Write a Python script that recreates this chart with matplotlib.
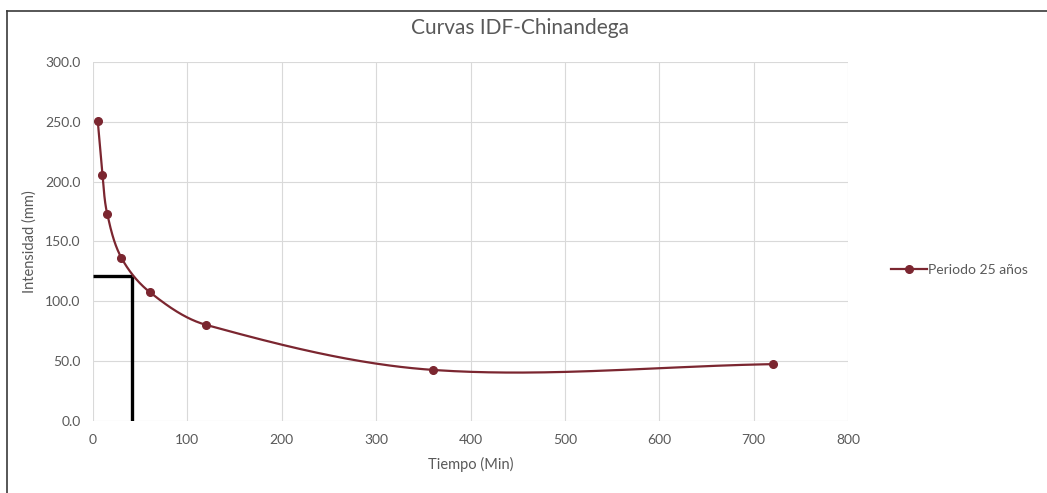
import numpy as np
import matplotlib
matplotlib.use("Agg")
import matplotlib.pyplot as plt
from matplotlib.lines import Line2D

# datos de la curva IDF (periodo 25 años)
tiempo = [5, 10, 15, 30, 60, 120, 360, 720]
intensidad = [251.0, 205.8, 173.3, 136.5, 107.8, 80.3, 42.7, 47.5]

# lectura de la curva (lineas negras)
t_lectura = 41
i_lectura = 121

x_ticks = [0, 100, 200, 300, 400, 500, 600, 700, 800]
y_ticks = [0, 50, 100, 150, 200, 250, 300]

titulo = "Curvas IDF-Chinandega"
serie = "Periodo 25 años"

plt.rcParams['font.family'] = ['Lato', 'DejaVu Sans']
gris = '#595959'
rojo = '#7b2630'

# escala aproximada en pixeles por unidad (para suavizar como en pantalla)
sx_px = 755 / 800
sy_px = 359 / 300


def suavizar(xs, ys, n=80):
    # curva suavizada (Bezier, tangente de Catmull-Rom, manijas segun la cuerda)
    p = np.column_stack([np.array(xs) * sx_px, np.array(ys) * sy_px]).astype(float)
    m = len(p)
    tang = []
    for i in range(m):
        a = p[max(i - 1, 0)]
        b = p[min(i + 1, m - 1)]
        d = b - a
        tang.append(d / np.linalg.norm(d))
    out = []
    for i in range(m - 1):
        p1, p2 = p[i], p[i + 1]
        L = np.linalg.norm(p2 - p1)
        c1 = p1 + tang[i] * L / 3.0
        c2 = p2 - tang[i + 1] * L / 3.0
        t = np.linspace(0, 1, n)[:, None]
        seg = ((1 - t) ** 3) * p1 + 3 * ((1 - t) ** 2) * t * c1 + 3 * (1 - t) * t ** 2 * c2 + t ** 3 * p2
        out.append(seg if i == 0 else seg[1:])
    s = np.vstack(out)
    return s[:, 0] / sx_px, s[:, 1] / sy_px


fig = plt.figure(figsize=(10.47, 4.93), dpi=100)
ax = fig.add_axes([93 / 1047, 1 - 421 / 493, (848 - 93) / 1047, (421 - 62) / 493])

cx, cy = suavizar(tiempo, intensidad)
ax.plot(cx, cy, color=rojo, lw=1.6, zorder=3)
ax.plot(tiempo, intensidad, 'o', color=rojo, ms=5.5, zorder=4)

# lineas de lectura
ax.plot([t_lectura, t_lectura], [0, i_lectura], color='black', lw=2.4, zorder=2,
        solid_capstyle='butt')
ax.plot([0, t_lectura], [i_lectura, i_lectura], color='black', lw=2.4, zorder=2,
        solid_capstyle='butt')

ax.set_xlim(0, 800)
ax.set_ylim(0, 300)
ax.set_xticks(x_ticks)
ax.set_yticks(y_ticks)
ax.set_yticklabels(["%.1f" % v for v in y_ticks])
ax.grid(True, color='#d9d9d9', lw=0.8)
ax.set_axisbelow(True)
for s in ax.spines.values():
    s.set_visible(False)
ax.tick_params(axis='both', length=0, labelsize=10, labelcolor=gris, pad=9)
ax.set_xlabel("Tiempo (Min)", fontsize=10.5, color=gris, labelpad=8)
ax.set_ylabel("Intensidad (mm)", fontsize=10.5, color=gris, labelpad=6)

fig.text(520 / 1047, 1 - 28 / 493, titulo, ha='center', va='center', fontsize=15, color=gris)

# leyenda
handle = Line2D([0], [0], color=rojo, lw=1.6, marker='o', ms=5.5)
fig.legend([handle], [serie], loc='center left', bbox_to_anchor=(878 / 1047, 1 - 270 / 493),
           frameon=False, fontsize=10, labelcolor=gris, handlelength=2.6, handletextpad=0.1)

# borde del grafico (solo arriba e izquierda visibles)
fig.add_artist(Line2D([7 / 1047, 1], [1 - 11 / 493, 1 - 11 / 493], color='#3a3a3a', lw=1.2))
fig.add_artist(Line2D([7 / 1047, 7 / 1047], [0, 1 - 11 / 493], color='#3a3a3a', lw=1.2))

fig.savefig("out.png", dpi=100)
